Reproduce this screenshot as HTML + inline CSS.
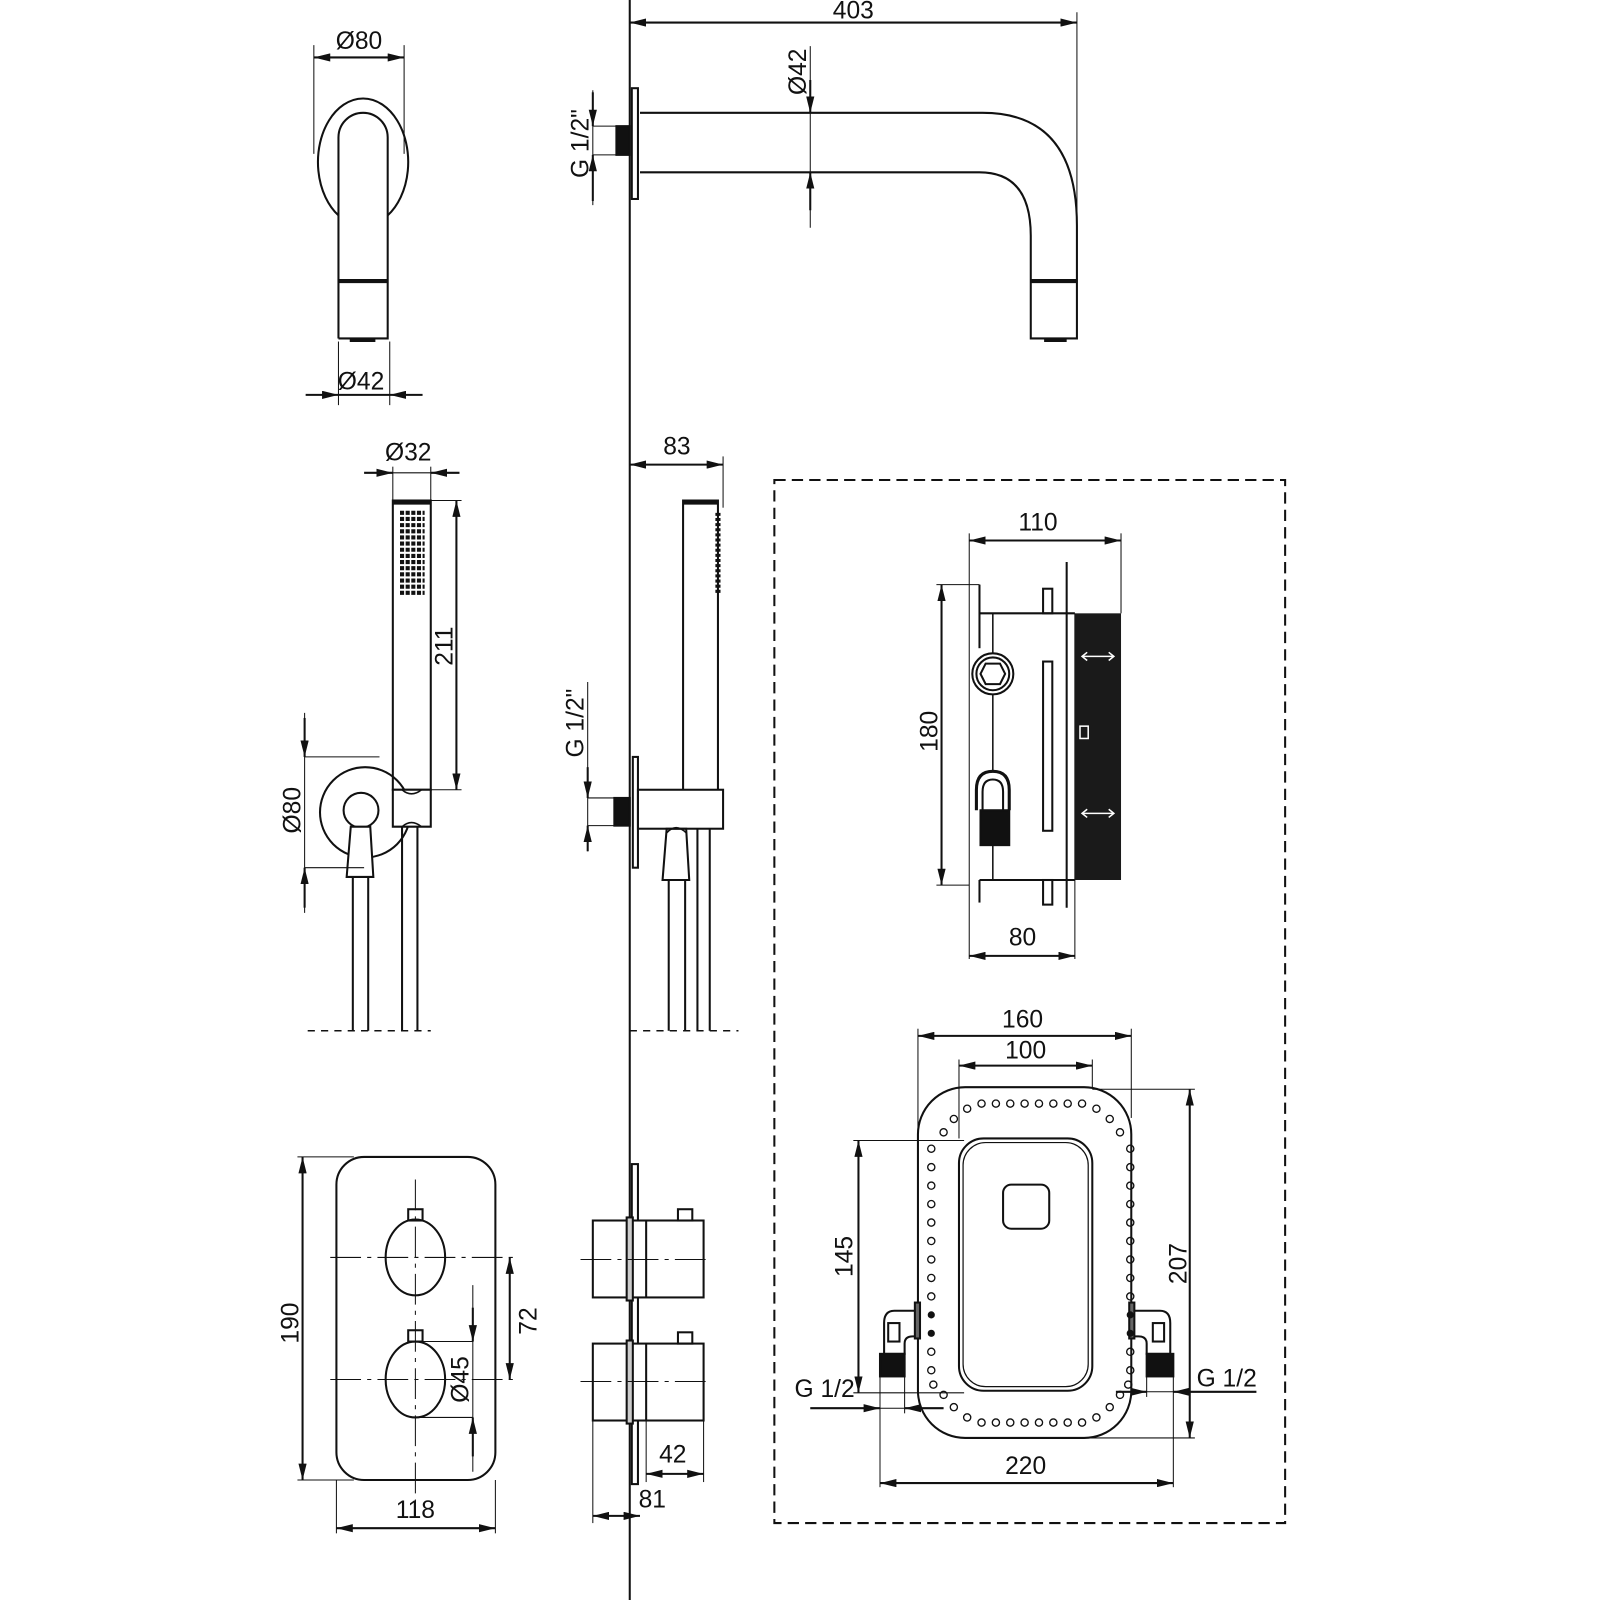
<!DOCTYPE html>
<html><head><meta charset="utf-8"><style>html,body{margin:0;padding:0;background:#fff}svg{display:block}text{font-family:"Liberation Sans Narrow","Liberation Sans",sans-serif;font-size:24px;fill:#111}</style></head><body>
<svg width="1600" height="1600" viewBox="0 0 1560 1560" xmlns="http://www.w3.org/2000/svg">
<defs>
<marker id="a" viewBox="0 0 16 8" refX="16" refY="4" markerWidth="16" markerHeight="8" markerUnits="userSpaceOnUse" orient="auto-start-reverse"><path d="M0 0L16 4L0 8z" fill="#111"/></marker>
</defs>
<g fill="none" stroke="#111" stroke-width="2">
<!-- wall line -->
<line x1="614" y1="0" x2="614" y2="1560"/>

<!-- ===== spout front ===== -->
<line x1="306" y1="44" x2="306" y2="150" stroke-width="1"/>
<line x1="394" y1="44" x2="394" y2="150" stroke-width="1"/>
<line x1="306" y1="56" x2="394" y2="56" marker-start="url(#a)" marker-end="url(#a)"/>
<path d="M330 210 A44 62 0 1 1 378 210"/>
<path d="M330 330 V134 A24 24 0 0 1 378 134 V330 H330"/>
<line x1="330" y1="274" x2="378" y2="274" stroke-width="4"/>
<line x1="341" y1="332" x2="366" y2="332" stroke-width="3"/>
<line x1="330" y1="333" x2="330" y2="395" stroke-width="1"/>
<line x1="380" y1="333" x2="380" y2="395" stroke-width="1"/>
<line x1="298" y1="385" x2="330" y2="385" marker-end="url(#a)"/>
<line x1="412" y1="385" x2="380" y2="385" marker-end="url(#a)"/>
<line x1="330" y1="385" x2="380" y2="385"/>

<!-- ===== spout side ===== -->
<line x1="1050" y1="12" x2="1050" y2="230" stroke-width="1"/>
<line x1="614" y1="22" x2="1050" y2="22" marker-start="url(#a)" marker-end="url(#a)"/>
<rect x="616" y="86" width="6" height="108"/>
<rect x="601" y="123" width="13" height="28" fill="#111"/>
<line x1="578" y1="88" x2="578" y2="200" stroke-width="1"/>
<line x1="578" y1="90" x2="578" y2="123" marker-end="url(#a)"/>
<line x1="578" y1="196" x2="578" y2="151" marker-end="url(#a)"/>
<line x1="578" y1="123" x2="601" y2="123" stroke-width="1"/>
<line x1="578" y1="151" x2="601" y2="151" stroke-width="1"/>
<path d="M624 110 H958 Q1050 110 1050 220 V330 H1005 V230 Q1005 168 955 168 H624"/>
<line x1="1005" y1="274" x2="1050" y2="274" stroke-width="4"/>
<line x1="1018" y1="332" x2="1040" y2="332" stroke-width="3"/>
<line x1="790" y1="45" x2="790" y2="222" stroke-width="1"/>
<line x1="790" y1="78" x2="790" y2="110" marker-end="url(#a)"/>
<line x1="790" y1="205" x2="790" y2="168" marker-end="url(#a)"/>

<!-- ===== hand shower front ===== -->
<line x1="383" y1="455" x2="383" y2="488" stroke-width="1"/>
<line x1="420" y1="455" x2="420" y2="488" stroke-width="1"/>
<line x1="355" y1="461" x2="383" y2="461" marker-end="url(#a)"/>
<line x1="448" y1="461" x2="420" y2="461" marker-end="url(#a)"/>
<line x1="383" y1="461" x2="420" y2="461" stroke-width="1"/>
<rect x="383" y="488" width="37" height="282"/>
<line x1="383" y1="490" x2="420" y2="490" stroke-width="4"/>
<line x1="420" y1="488" x2="450" y2="488" stroke-width="1"/>
<line x1="420" y1="770" x2="450" y2="770" stroke-width="1"/>
<line x1="445" y1="488" x2="445" y2="770" marker-start="url(#a)" marker-end="url(#a)"/>
<circle cx="356" cy="792" r="44"/>
<path d="M383 770 H420 V806 H383 Z" fill="#fff"/>
<path d="M392 770 Q401 778 411 770 M392 806 Q401 798 411 806" stroke-width="1.5"/>
<circle cx="352" cy="790" r="17" fill="#fff"/>
<path d="M342 806 L338 855 H364 L361 806 Z" fill="#fff"/>
<line x1="344" y1="855" x2="344" y2="1005"/><line x1="359" y1="855" x2="359" y2="1005"/>
<line x1="392" y1="806" x2="392" y2="1005"/><line x1="407" y1="806" x2="407" y2="1005"/>
<line x1="300" y1="1005" x2="420" y2="1005" stroke-width="1.5" stroke-dasharray="7 6"/>
<line x1="297" y1="695" x2="297" y2="890" stroke-width="1"/>
<line x1="297" y1="700" x2="297" y2="738" marker-end="url(#a)"/>
<line x1="297" y1="885" x2="297" y2="846" marker-end="url(#a)"/>
<line x1="297" y1="738" x2="370" y2="738" stroke-width="1"/>
<line x1="297" y1="846" x2="355" y2="846" stroke-width="1"/>

<!-- ===== hand shower side ===== -->
<line x1="705" y1="445" x2="705" y2="495" stroke-width="1"/>
<line x1="614" y1="453" x2="705" y2="453" marker-start="url(#a)" marker-end="url(#a)"/>
<path d="M666 770 V488 H700 V770"/>
<line x1="666" y1="490" x2="700" y2="490" stroke-width="4"/>
<rect x="617" y="738" width="5" height="108"/>
<rect x="599" y="778" width="15" height="27" fill="#111"/>
<rect x="622" y="770" width="83" height="38"/>
<path d="M650 808 L646 858 H672 L669 808 Z"/>
<path d="M650 812 Q659 802 669 812" stroke-width="1.5"/>
<line x1="652" y1="858" x2="652" y2="1005"/><line x1="668" y1="858" x2="668" y2="1005"/>
<line x1="680" y1="808" x2="680" y2="1005"/><line x1="692" y1="808" x2="692" y2="1005"/>
<line x1="614" y1="1005" x2="720" y2="1005" stroke-width="1.5" stroke-dasharray="7 6"/>
<line x1="573" y1="665" x2="573" y2="830" stroke-width="1"/>
<line x1="573" y1="748" x2="573" y2="778" marker-end="url(#a)"/>
<line x1="573" y1="830" x2="573" y2="805" marker-end="url(#a)"/>
<line x1="573" y1="778" x2="599" y2="778" stroke-width="1"/>
<line x1="573" y1="805" x2="599" y2="805" stroke-width="1"/>

<!-- ===== mixer front ===== -->
<rect x="328" y="1128" width="155" height="315" rx="27"/>
<g stroke-width="1" stroke-dasharray="30 6 4 6">
<line x1="405" y1="1150" x2="405" y2="1480"/>
<line x1="322" y1="1226" x2="500" y2="1226"/>
<line x1="322" y1="1345" x2="500" y2="1345"/>
</g>
<ellipse cx="405" cy="1226" rx="29" ry="37"/>
<ellipse cx="405" cy="1345" rx="29" ry="37"/>
<rect x="398" y="1179" width="14" height="11"/>
<rect x="398" y="1297" width="14" height="11"/>
<line x1="290" y1="1128" x2="345" y2="1128" stroke-width="1"/>
<line x1="290" y1="1443" x2="345" y2="1443" stroke-width="1"/>
<line x1="295" y1="1128" x2="295" y2="1443" marker-start="url(#a)" marker-end="url(#a)"/>
<line x1="497" y1="1226" x2="497" y2="1345" marker-start="url(#a)" marker-end="url(#a)"/>
<line x1="405" y1="1308" x2="461" y2="1308" stroke-width="1"/>
<line x1="405" y1="1382" x2="461" y2="1382" stroke-width="1"/>
<line x1="461" y1="1253" x2="461" y2="1435" stroke-width="1"/>
<line x1="461" y1="1275" x2="461" y2="1308" marker-end="url(#a)"/>
<line x1="461" y1="1420" x2="461" y2="1382" marker-end="url(#a)"/>
<line x1="328" y1="1443" x2="328" y2="1495" stroke-width="1"/>
<line x1="483" y1="1443" x2="483" y2="1495" stroke-width="1"/>
<line x1="328" y1="1490" x2="483" y2="1490" marker-start="url(#a)" marker-end="url(#a)"/>

<!-- ===== mixer side ===== -->
<rect x="616" y="1135" width="6" height="312"/>
<rect x="578" y="1190" width="108" height="75" fill="#fff"/>
<rect x="578" y="1310" width="108" height="75" fill="#fff"/>
<line x1="630" y1="1190" x2="630" y2="1265"/><line x1="630" y1="1310" x2="630" y2="1385"/>
<rect x="611" y="1187" width="6" height="81" fill="#ccc"/><rect x="611" y="1307" width="6" height="81" fill="#ccc"/>
<rect x="661" y="1179" width="14" height="11"/><rect x="661" y="1299" width="14" height="11"/>
<g stroke-width="1" stroke-dasharray="30 6 4 6"><line x1="566" y1="1228" x2="690" y2="1228"/><line x1="566" y1="1347" x2="690" y2="1347"/></g>
<line x1="578" y1="1385" x2="578" y2="1485" stroke-width="1"/>
<line x1="630" y1="1385" x2="630" y2="1445" stroke-width="1"/>
<line x1="686" y1="1385" x2="686" y2="1445" stroke-width="1"/>
<line x1="630" y1="1437" x2="686" y2="1437" marker-start="url(#a)" marker-end="url(#a)"/>
<line x1="578" y1="1478" x2="624" y2="1478" marker-start="url(#a)" marker-end="url(#a)"/>

<!-- ===== dashed box ===== -->
<rect x="755" y="468" width="498" height="1017" stroke-dasharray="11 6"/>

<!-- body side -->
<line x1="945" y1="520" x2="945" y2="935" stroke-width="1"/>
<line x1="1093" y1="520" x2="1093" y2="598" stroke-width="1"/>
<line x1="945" y1="527" x2="1093" y2="527" marker-start="url(#a)" marker-end="url(#a)"/>
<line x1="913" y1="570" x2="955" y2="570" stroke-width="1"/>
<line x1="913" y1="863" x2="945" y2="863" stroke-width="1"/>
<line x1="918" y1="570" x2="918" y2="863" marker-start="url(#a)" marker-end="url(#a)"/>
<line x1="955" y1="570" x2="955" y2="632"/>
<line x1="955" y1="598" x2="1048" y2="598"/><line x1="955" y1="858" x2="1048" y2="858"/>
<line x1="955" y1="858" x2="955" y2="880"/>
<line x1="968" y1="598" x2="968" y2="858" stroke-width="1.5"/>
<line x1="1040" y1="548" x2="1040" y2="885"/>
<line x1="1048" y1="598" x2="1048" y2="935" stroke-width="1"/>
<rect x="1017" y="574" width="9" height="24"/><rect x="1017" y="858" width="9" height="24"/>
<rect x="1017" y="645" width="9" height="165"/>
<rect x="1048" y="598" width="45" height="260" fill="#1a1a1a" stroke="none"/>
<circle cx="968" cy="657" r="20" fill="#fff"/><circle cx="968" cy="657" r="16"/>
<path d="M961 647 H975 L980 657 L975 667 H961 L956 657 Z"/>
<path d="M952 790 V770 Q952 752 968 752 Q984 752 984 770 V790" stroke-width="3" fill="#fff"/>
<path d="M958 790 V772 Q958 760 968 760 Q978 760 978 772 V790"/>
<rect x="956" y="790" width="28" height="34" fill="#111"/>
<g stroke="#fff" stroke-width="1.5"><line x1="1056" y1="640" x2="1085" y2="640"/><line x1="1056" y1="793" x2="1085" y2="793"/>
<path d="M1060 636 L1055 640 L1060 644 M1081 636 L1086 640 L1081 644"/><path d="M1060 789 L1055 793 L1060 797 M1081 789 L1086 793 L1081 797"/>
<rect x="1053" y="708" width="8" height="12"/></g>
<line x1="945" y1="932" x2="1048" y2="932" marker-start="url(#a)" marker-end="url(#a)"/>

<!-- bottom box -->
<rect x="895" y="1060" width="208" height="342" rx="46"/>
<rect x="935" y="1110" width="130" height="246" rx="24"/>
<rect x="939" y="1114" width="122" height="238" rx="22" stroke-width="1.2"/>
<rect x="978" y="1155" width="45" height="43" rx="8"/>
<line x1="895" y1="1003" x2="895" y2="1110" stroke-width="1"/>
<line x1="1103" y1="1003" x2="1103" y2="1090" stroke-width="1"/>
<line x1="895" y1="1010" x2="1103" y2="1010" marker-start="url(#a)" marker-end="url(#a)"/>
<line x1="935" y1="1033" x2="935" y2="1110" stroke-width="1"/>
<line x1="1065" y1="1033" x2="1065" y2="1060" stroke-width="1"/>
<line x1="935" y1="1039" x2="1065" y2="1039" marker-start="url(#a)" marker-end="url(#a)"/>
<line x1="1065" y1="1062" x2="1165" y2="1062" stroke-width="1"/>
<line x1="1060" y1="1402" x2="1165" y2="1402" stroke-width="1"/>
<line x1="1160" y1="1062" x2="1160" y2="1402" marker-start="url(#a)" marker-end="url(#a)"/>
<line x1="832" y1="1112" x2="940" y2="1112" stroke-width="1"/>
<line x1="832" y1="1358" x2="940" y2="1358" stroke-width="1"/>
<line x1="837" y1="1112" x2="837" y2="1358" marker-start="url(#a)" marker-end="url(#a)"/>
<path d="M895 1278 H872 Q862 1278 862 1290 V1320 H882 V1310 Q882 1303 890 1303 H895"/>
<rect x="866" y="1290" width="11" height="18"/>
<rect x="858" y="1320" width="24" height="22" fill="#111"/>
<path d="M1103 1278 H1131 Q1141 1278 1141 1290 V1320 H1118 V1310 Q1118 1303 1110 1303 H1103"/>
<rect x="1124" y="1290" width="11" height="18"/>
<rect x="1118" y="1320" width="26" height="22" fill="#111"/>
<rect x="892" y="1270" width="5" height="35" fill="#666"/><rect x="1101" y="1270" width="5" height="35" fill="#666"/>
<line x1="858" y1="1342" x2="858" y2="1450" stroke-width="1"/>
<line x1="1144" y1="1342" x2="1144" y2="1450" stroke-width="1"/>
<line x1="882" y1="1342" x2="882" y2="1378" stroke-width="1"/>
<line x1="1118" y1="1342" x2="1118" y2="1362" stroke-width="1"/>
<line x1="858" y1="1446" x2="1144" y2="1446" marker-start="url(#a)" marker-end="url(#a)"/>
<line x1="790" y1="1373" x2="858" y2="1373" marker-end="url(#a)"/>
<line x1="920" y1="1373" x2="882" y2="1373" marker-end="url(#a)"/>
<line x1="858" y1="1373" x2="882" y2="1373" stroke-width="1"/>
<line x1="1088" y1="1357" x2="1118" y2="1357" marker-end="url(#a)"/>
<line x1="1225" y1="1357" x2="1144" y2="1357" marker-end="url(#a)"/>
<line x1="1118" y1="1357" x2="1144" y2="1357" stroke-width="1"/>
</g>
<!-- nozzle dots -->
<g fill="#111">
<path d="M390 500h24M390 506h24M390 512h24M390 518h24M390 524h24M390 530h24M390 536h24M390 542h24M390 548h24M390 554h24M390 560h24M390 566h24M390 572h24M390 578h24" stroke="#111" stroke-width="4" stroke-dasharray="4 1.5"/>
<path d="M700 500v80" stroke="#111" stroke-width="5" stroke-dasharray="3 2"/>
</g>
<!-- bottom box dots -->
<g fill="none" stroke="#111" stroke-width="1.3">
<circle cx="957" cy="1076" r="3.5"/><circle cx="971" cy="1076" r="3.5"/><circle cx="985" cy="1076" r="3.5"/><circle cx="999" cy="1076" r="3.5"/><circle cx="1013" cy="1076" r="3.5"/><circle cx="1027" cy="1076" r="3.5"/><circle cx="1041" cy="1076" r="3.5"/><circle cx="1055" cy="1076" r="3.5"/><circle cx="943" cy="1081" r="3.5"/><circle cx="1069" cy="1081" r="3.5"/>
<circle cx="957" cy="1387" r="3.5"/><circle cx="971" cy="1387" r="3.5"/><circle cx="985" cy="1387" r="3.5"/><circle cx="999" cy="1387" r="3.5"/><circle cx="1013" cy="1387" r="3.5"/><circle cx="1027" cy="1387" r="3.5"/><circle cx="1041" cy="1387" r="3.5"/><circle cx="1055" cy="1387" r="3.5"/><circle cx="943" cy="1382" r="3.5"/><circle cx="1069" cy="1382" r="3.5"/>
<circle cx="930" cy="1091" r="3.5"/><circle cx="1082" cy="1091" r="3.5"/><circle cx="920" cy="1104" r="3.5"/><circle cx="1092" cy="1104" r="3.5"/>
<circle cx="930" cy="1372" r="3.5"/><circle cx="1082" cy="1372" r="3.5"/><circle cx="920" cy="1360" r="3.5"/><circle cx="1092" cy="1360" r="3.5"/>
<circle cx="908" cy="1120" r="3.5"/><circle cx="908" cy="1138" r="3.5"/><circle cx="908" cy="1156" r="3.5"/><circle cx="908" cy="1174" r="3.5"/><circle cx="908" cy="1192" r="3.5"/><circle cx="908" cy="1210" r="3.5"/><circle cx="908" cy="1228" r="3.5"/><circle cx="908" cy="1246" r="3.5"/><circle cx="908" cy="1264" r="3.5"/><circle cx="908" cy="1318" r="3.5"/><circle cx="908" cy="1336" r="3.5"/><circle cx="910" cy="1350" r="3.5"/>
<circle cx="1102" cy="1120" r="3.5"/><circle cx="1102" cy="1138" r="3.5"/><circle cx="1102" cy="1156" r="3.5"/><circle cx="1102" cy="1174" r="3.5"/><circle cx="1102" cy="1192" r="3.5"/><circle cx="1102" cy="1210" r="3.5"/><circle cx="1102" cy="1228" r="3.5"/><circle cx="1102" cy="1246" r="3.5"/><circle cx="1102" cy="1264" r="3.5"/><circle cx="1102" cy="1318" r="3.5"/><circle cx="1102" cy="1336" r="3.5"/><circle cx="1100" cy="1350" r="3.5"/>
</g>
<g fill="#111"><circle cx="908" cy="1282" r="3.5"/><circle cx="908" cy="1300" r="3.5"/><circle cx="1102" cy="1282" r="3.5"/><circle cx="1102" cy="1300" r="3.5"/></g>

<!-- labels -->
<text x="350" y="48" text-anchor="middle">Ø80</text>
<text x="352" y="380" text-anchor="middle">Ø42</text>
<text x="832" y="18" text-anchor="middle">403</text>
<text transform="translate(786,70) rotate(-90)" text-anchor="middle">Ø42</text>
<text transform="translate(574,140) rotate(-90)" text-anchor="middle">G 1/2"</text>
<text x="398" y="449" text-anchor="middle">Ø32</text>
<text transform="translate(441,630) rotate(-90)" text-anchor="middle">211</text>
<text transform="translate(293,790) rotate(-90)" text-anchor="middle">Ø80</text>
<text x="660" y="443" text-anchor="middle">83</text>
<text transform="translate(569,705) rotate(-90)" text-anchor="middle">G 1/2"</text>
<text transform="translate(291,1290) rotate(-90)" text-anchor="middle">190</text>
<text transform="translate(523,1288) rotate(-90)" text-anchor="middle">72</text>
<text transform="translate(457,1345) rotate(-90)" text-anchor="middle">Ø45</text>
<text x="405" y="1480" text-anchor="middle">118</text>
<text x="656" y="1426" text-anchor="middle">42</text>
<text x="636" y="1470" text-anchor="middle">81</text>
<text x="1012" y="517" text-anchor="middle">110</text>
<text transform="translate(914,713) rotate(-90)" text-anchor="middle">180</text>
<text x="997" y="922" text-anchor="middle">80</text>
<text x="997" y="1002" text-anchor="middle">160</text>
<text x="1000" y="1032" text-anchor="middle">100</text>
<text transform="translate(1157,1232) rotate(-90)" text-anchor="middle">207</text>
<text transform="translate(831,1225) rotate(-90)" text-anchor="middle">145</text>
<text x="1000" y="1437" text-anchor="middle">220</text>
<text x="804" y="1362" text-anchor="middle">G 1/2</text>
<text x="1196" y="1352" text-anchor="middle">G 1/2</text>
</svg>
</body></html>
